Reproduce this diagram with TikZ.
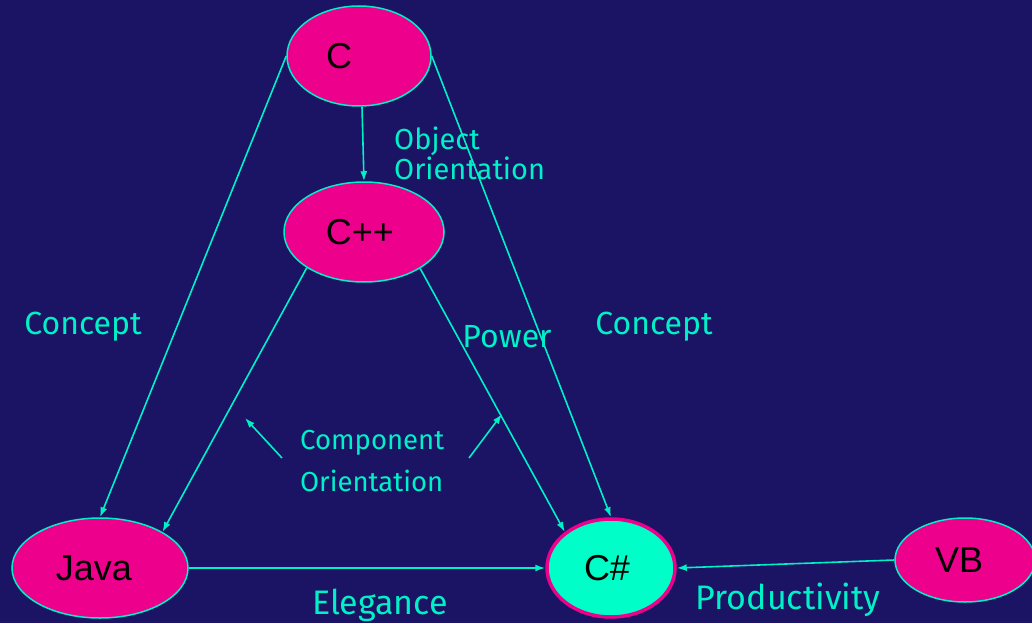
\documentclass[tikz,border=0pt]{standalone}
\usepackage{fontspec}
\setmainfont{Liberation Sans}
\newfontfamily\labelfont{Fira Sans}
\usetikzlibrary{shapes.geometric,arrows.meta}
\definecolor{bgblue}{RGB}{27,20,100}
\definecolor{hotpink}{RGB}{236,0,140}
\definecolor{aqua}{RGB}{0,240,200}
\definecolor{mint}{RGB}{0,255,200}
\tikzset{
  lang/.style={ellipse, draw=aqua, line width=1.5pt, fill=hotpink, inner sep=0pt,
    text=black, font=\fontsize{36}{40}\selectfont},
  target/.style={lang, fill=mint, draw=hotpink, line width=3.5pt},
  link/.style={draw=aqua, line width=1.6pt, -{Latex[length=10pt,width=7pt]}},
  tag/.style={text=aqua, font=\labelfont\fontsize{32}{36}\selectfont, inner sep=0pt},
  bigtag/.style={tag, font=\labelfont\fontsize{34}{36}\selectfont},
  smalltag/.style={text=aqua, font=\labelfont\fontsize{29}{30}\selectfont, inner sep=0pt, align=left},
  cotag/.style={smalltag, font=\labelfont\fontsize{27.5}{30}\selectfont},
}
\begin{document}
\begin{tikzpicture}[x=1pt, y=-1pt]
  \useasboundingbox (0,0) rectangle (1032,623);
  \fill[bgblue] (0,0) rectangle (1032,623);

  % languages
  \node[lang, minimum width=144pt, minimum height=100pt] (C) at (359,56) {C\hspace*{40pt}};
  \node[lang, minimum width=160pt, minimum height=100pt] (CPP) at (364,232) {C++\hspace*{8pt}};
  \node[lang, minimum width=176pt, minimum height=100pt] (Java) at (100,568) {Java\hspace*{12pt}};
  \node[target, minimum width=128pt, minimum height=98pt] (CS) at (611,568) {C\#\hspace*{8pt}};
  \node[lang, minimum width=140pt, minimum height=84pt] (VB) at (965,560) {VB\hspace*{12pt}};

  % influences
  \draw[link] ([xshift=3pt]C.south) -- (CPP.north);
  \draw[link] (C.west) -- (Java.north);
  \draw[link] (C.east) -- (CS.north);
  \draw[link] (CPP.212) -- (Java.30);
  \draw[link] (CPP.-33) -- (CS.142);
  \draw[link] (Java.east) -- (CS.west);
  \draw[link] (VB.west) -- (CS.east);

  % component orientation pointers
  \coordinate (p1) at (282,458);
  \coordinate (q1) at (245,418);
  \coordinate (p2) at (469,458);
  \coordinate (q2) at (502,414);
  \draw[link] (p1) -- (q1);
  \draw[link] (p2) -- (q2);

  % labels
  \node[smalltag, anchor=west] (oo) at (394,153) {Object\\Orientation};
  \node[tag] (concL) at (83,327) {Concept};
  \node[tag] (concR) at (654,327) {Concept};
  \node[tag] (power) at (507,337) {Power};
  \node[cotag, anchor=west] (co1) at (300,443) {Component};
  \node[cotag, anchor=west] (co2) at (300,481) {Orientation};
  \node[bigtag] (eleg) at (380,605) {Elegance};
  \node[bigtag] (prod) at (788,600) {Productivity};
\end{tikzpicture}
\end{document}
